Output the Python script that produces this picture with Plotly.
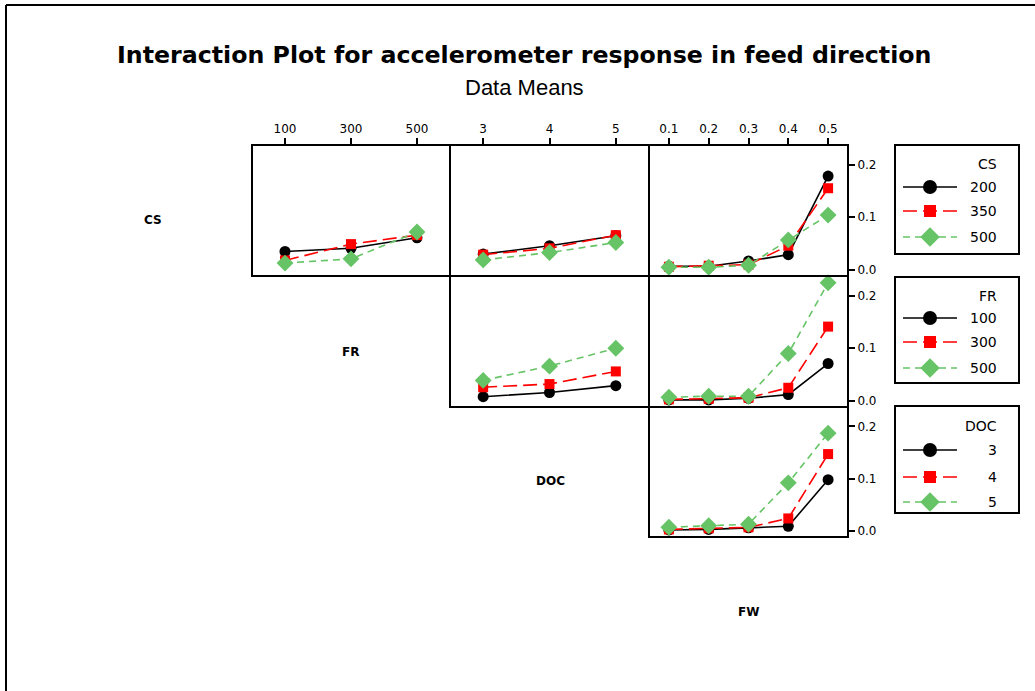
import plotly.graph_objects as go

# Factor levels
cs_levels = [200, 350, 500]
fr_levels = [100, 300, 500]
doc_levels = [3, 4, 5]
fw_levels = [0.1, 0.2, 0.3, 0.4, 0.5]

# Data means: one list per level of the trace factor
cs_vs_fr = [[0.035, 0.041, 0.061],
            [0.018, 0.049, 0.066],
            [0.013, 0.021, 0.072]]
cs_vs_doc = [[0.030, 0.046, 0.065],
             [0.029, 0.041, 0.066],
             [0.019, 0.033, 0.052]]
cs_vs_fw = [[0.007, 0.007, 0.017, 0.029, 0.178],
            [0.006, 0.008, 0.010, 0.046, 0.155],
            [0.005, 0.005, 0.009, 0.057, 0.104]]
fr_vs_doc = [[0.008, 0.016, 0.029],
             [0.026, 0.032, 0.056],
             [0.039, 0.066, 0.100]]
fr_vs_fw = [[0.002, 0.002, 0.005, 0.012, 0.071],
            [0.003, 0.004, 0.006, 0.025, 0.141],
            [0.007, 0.009, 0.009, 0.090, 0.224]]
doc_vs_fw = [[0.002, 0.003, 0.006, 0.009, 0.098],
             [0.003, 0.005, 0.007, 0.024, 0.147],
             [0.007, 0.010, 0.013, 0.092, 0.187]]

W, H = 1035, 691
FONT = "DejaVu Sans"

# series styling: solid black circles, long-dash red squares, dashed green diamonds
styles = [
    dict(color="black", dash="solid", symbol="circle", size=11, lsize=14),
    dict(color="#ff0000", dash="14px,6px", symbol="square", size=10, lsize=12),
    dict(color="#66c466", dash="7px,5px", symbol="diamond", size=13, lsize=15),
]

def px_x(p):
    return p / W

def px_y(p):
    return 1 - p / H

col_edges = [252, 450, 649, 848]
row_edges = [145, 276, 407, 537]
y_range = [-0.0115, 0.237]

# (row, col, x levels, x range, data)
panels = [
    (0, 0, fr_levels, [0, 600], cs_vs_fr),
    (0, 1, doc_levels, [2.5, 5.5], cs_vs_doc),
    (0, 2, fw_levels, [0.05, 0.55], cs_vs_fw),
    (1, 1, doc_levels, [2.5, 5.5], fr_vs_doc),
    (1, 2, fw_levels, [0.05, 0.55], fr_vs_fw),
    (2, 2, fw_levels, [0.05, 0.55], doc_vs_fw),
]

fig = go.Figure()

# Full-page pixel axis for legend boxes and labels (drawn first, underneath)
fig.add_trace(go.Scatter(x=[], y=[], xaxis="x7", yaxis="y7"))

layout = dict(
    width=W, height=H,
    margin=dict(l=0, r=0, t=0, b=0),
    paper_bgcolor="white", plot_bgcolor="rgba(0,0,0,0)",
    showlegend=False,
    font=dict(family=FONT, color="black", size=12),
)

shapes = []
annotations = []

for i, (r, c, xs, xr, data) in enumerate(panels, start=1):
    xa = "x" if i == 1 else f"x{i}"
    ya = "y" if i == 1 else f"y{i}"
    for s, ys in zip(styles, data):
        fig.add_trace(go.Scatter(
            x=xs, y=ys, xaxis=xa, yaxis=ya, mode="lines+markers",
            line=dict(color=s["color"], dash=s["dash"], width=1.6),
            marker=dict(symbol=s["symbol"], size=s["size"], color=s["color"],
                        line=dict(width=0)),
            cliponaxis=False,
        ))
    top_row = (r == 0)
    last_col = (c == 2)
    layout[f"xaxis{i}" if i > 1 else "xaxis"] = dict(
        domain=[px_x(col_edges[c]), px_x(col_edges[c + 1])],
        range=xr, anchor=ya, side="top",
        tickmode="array", tickvals=xs,
        ticktext=[str(v) for v in xs],
        showticklabels=top_row,
        ticks="outside" if top_row else "", ticklen=6, tickwidth=1.5, tickcolor="black",
        showline=False, showgrid=False, zeroline=False, fixedrange=True,
        tickfont=dict(family=FONT, size=12),
    )
    layout[f"yaxis{i}" if i > 1 else "yaxis"] = dict(
        domain=[px_y(row_edges[r + 1]), px_y(row_edges[r])],
        range=y_range, anchor=xa, side="right",
        tickmode="array", tickvals=[0.0, 0.1, 0.2],
        ticktext=["0.0", "0.1", "0.2"],
        showticklabels=last_col,
        ticks="outside" if last_col else "", ticklen=6, tickwidth=1.5, tickcolor="black",
        showline=False, showgrid=False, zeroline=False, fixedrange=True,
        tickfont=dict(family=FONT, size=12),
    )
    # panel frame; shared edges land on the same pixels
    shapes.append(dict(type="rect", xref="paper", yref="paper",
                       x0=px_x(col_edges[c]), x1=px_x(col_edges[c + 1]),
                       y0=px_y(row_edges[r + 1]), y1=px_y(row_edges[r]),
                       line=dict(color="black", width=2), fillcolor="rgba(0,0,0,0)",
                       layer="above"))

layout["xaxis7"] = dict(domain=[0, 1], range=[0, W], visible=False, anchor="y7", fixedrange=True)
layout["yaxis7"] = dict(domain=[0, 1], range=[H, 0], visible=False, anchor="x7", fixedrange=True)

legends = [
    ("CS", cs_levels, 145, 254, 164, [187, 211, 237]),
    ("FR", fr_levels, 277, 383, 296, [318, 342, 368]),
    ("DOC", doc_levels, 406, 513, 426, [450, 477, 502]),
]

for title, levels, top, bottom, ty, rows in legends:
    shapes.append(dict(type="rect", xref="x7", yref="y7", x0=895, x1=1019, y0=top, y1=bottom,
                       line=dict(color="black", width=2), fillcolor="rgba(0,0,0,0)"))
    annotations.append(dict(xref="x7", yref="y7", x=999, y=ty, text=title, showarrow=False,
                            xanchor="right", yanchor="middle",
                            font=dict(family=FONT, size=14, color="black")))
    for s, lv, yy in zip(styles, levels, rows):
        fig.add_trace(go.Scatter(
            x=[903, 957], y=[yy, yy], xaxis="x7", yaxis="y7", mode="lines",
            line=dict(color=s["color"], dash=s["dash"], width=1.6), hoverinfo="skip"))
        fig.add_trace(go.Scatter(
            x=[930], y=[yy], xaxis="x7", yaxis="y7", mode="markers",
            marker=dict(symbol=s["symbol"], size=s["lsize"], color=s["color"], line=dict(width=0)),
            hoverinfo="skip"))
        annotations.append(dict(xref="x7", yref="y7", x=999, y=yy, text=str(lv), showarrow=False,
                                xanchor="right", yanchor="middle",
                                font=dict(family=FONT, size=14, color="black")))

# Factor names along the diagonal
for name, x, y in [("CS", 153, 220), ("FR", 350, 352), ("DOC", 550, 481), ("FW", 748, 612)]:
    annotations.append(dict(xref="x7", yref="y7", x=x, y=y, text=f"<b>{name}</b>", showarrow=False,
                            xanchor="center", yanchor="middle",
                            font=dict(family=FONT, size=12, color="black")))

# Titles
annotations.append(dict(xref="x7", yref="y7", x=524, y=55,
                        text="<b>Interaction Plot for accelerometer response in feed direction</b>",
                        showarrow=False, xanchor="center", yanchor="middle",
                        font=dict(family=FONT, size=23.7, color="black")))
annotations.append(dict(xref="x7", yref="y7", x=524, y=87, text="Data Means",
                        showarrow=False, xanchor="center", yanchor="middle",
                        font=dict(family="Liberation Sans", size=22, color="black")))

# Outer frame (top and left edges only)
shapes.append(dict(type="line", xref="paper", yref="paper", x0=px_x(6), x1=1, y0=px_y(5), y1=px_y(5),
                   line=dict(color="black", width=2)))
shapes.append(dict(type="line", xref="paper", yref="paper", x0=px_x(6), x1=px_x(6), y0=px_y(5), y1=0,
                   line=dict(color="black", width=2)))

layout["shapes"] = shapes
layout["annotations"] = annotations
fig.update_layout(**layout)

fig.write_html("out.html")
